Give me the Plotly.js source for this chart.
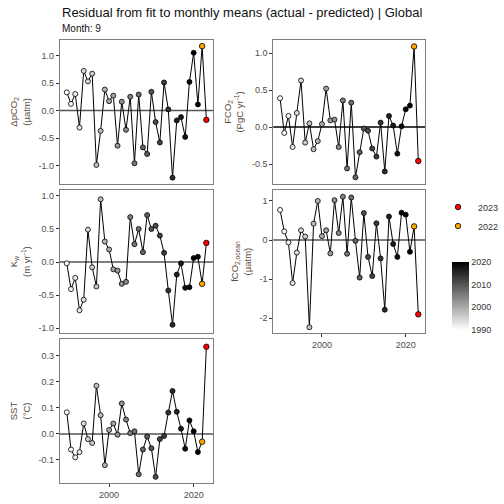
<!DOCTYPE html>
<html>
<head>
<meta charset="utf-8">
<script src="https://cdn.plot.ly/plotly-3.0.1.min.js"></script>
<style>body{margin:0}#plot{width:504px;height:504px}</style>
</head>
<body>
<div id="plot"></div>
<script>
const years = [];
for (let y = 1990; y <= 2023; y++) years.push(y);

const dpco2 = [0.33, 0.12, 0.30, -0.31, 0.72, 0.53, 0.67, -0.99, -0.37, 0.38, 0.17, 0.27, -0.64, 0.16, -0.35, 0.25, -0.96, 0.29, -0.67, -0.79, 0.34, -0.21, -0.58, 0.51, 0.02, -1.22, -0.18, -0.12, -0.48, 0.52, 1.05, 0.11, 1.17, -0.17];
const fco2flux = [0.39, -0.08, 0.15, -0.27, 0.19, 0.63, -0.21, 0.05, -0.30, -0.19, 0.04, 0.52, 0.09, 0.10, -0.27, 0.36, -0.56, 0.33, -0.68, -0.34, -0.02, -0.05, -0.29, -0.40, 0.06, -0.60, 0.15, 0.02, -0.36, 0.01, 0.24, 0.29, 1.09, -0.46];
const kw = [-0.02, -0.41, -0.24, -0.73, -0.57, 0.49, -0.08, -0.37, 0.95, 0.31, 0.19, -0.11, -0.13, -0.33, -0.30, 0.68, 0.27, 0.50, 0.15, 0.71, 0.50, 0.55, 0.40, 0.14, -0.43, -0.95, -0.19, -0.02, -0.39, -0.38, 0.06, 0.08, -0.33, 0.29];
const fco2ocean = [0.77, 0.22, -0.06, -1.10, -0.32, 0.25, 0.09, -2.23, 0.42, 1.00, 0.10, 0.25, -0.34, 1.02, 0.18, 1.11, -0.35, 1.09, -0.02, -0.96, 0.69, -0.43, -0.92, 0.43, -0.47, -1.78, 0.60, -0.10, -0.43, 0.70, 0.65, -0.30, 0.35, -1.90];
const sst = [0.083, -0.06, -0.09, -0.07, 0.04, -0.02, -0.035, 0.185, 0.072, -0.12, 0.015, 0.04, -0.003, 0.117, 0.055, 0.003, 0.01, -0.155, -0.06, -0.01, -0.055, -0.165, -0.02, -0.008, 0.082, 0.165, 0.085, 0.02, -0.057, 0.052, 0.01, -0.07, -0.03, 0.335];

const panels = [
    { y: dpco2, title: 'ΔpCO<sub>2</sub><br>(µatm)', x: [0.121, 0.431], d: [0.635, 0.921], r: [-1.335, 1.285], tv: [-1, -0.5, 0, 0.5, 1], tt: ['-1.0', '-0.5', '0.0', '0.5', '1.0'], xt: false },
    { y: fco2flux, title: 'FCO<sub>2</sub><br>(PgC yr<sup>-1</sup>)', x: [0.552, 0.859], d: [0.635, 0.921], r: [-0.77, 1.18], tv: [-0.5, 0, 0.5, 1], tt: ['-0.5', '0.0', '0.5', '1.0'], xt: false },
    { y: kw, title: 'K<sub>w</sub><br>(m yr<sup>-1</sup>)', x: [0.121, 0.431], d: [0.339, 0.623], r: [-1.076, 1.09], tv: [-1, -0.5, 0, 0.5, 1], tt: ['-1.0', '-0.5', '0.0', '0.5', '1.0'], xt: false },
    { y: fco2ocean, title: 'fCO<sub>2,ocean</sub><br>(µatm)', x: [0.552, 0.859], d: [0.339, 0.623], r: [-2.38, 1.28], tv: [-2, -1, 0, 1], tt: ['-2', '-1', '0', '1'], xt: true },
    { y: sst, title: 'SST<br>(°C)', x: [0.121, 0.431], d: [0.042, 0.327], r: [-0.188, 0.364], tv: [-0.1, 0, 0.1, 0.2, 0.3], tt: ['-0.1', '0.0', '0.1', '0.2', '0.3'], xt: true },
];

const grey = [[0, '#ffffff'], [1, '#000000']];
const data = [];
const layout = {
    width: 504, height: 504,
    margin: { t: 0, l: 0, r: 0, b: 0 },
    paper_bgcolor: 'white', plot_bgcolor: 'white',
    font: { family: 'Liberation Sans, Arial, sans-serif', size: 9, color: '#4d4d4d' },
    legend: { x: 0.885, y: 0.618, xanchor: 'left', yanchor: 'top', font: { size: 9, color: '#333' }, itemwidth: 12, tracegroupgap: 0 },
    shapes: [],
    annotations: [
        { text: 'Residual from fit to monthly means (actual - predicted) | Global', xref: 'paper', yref: 'paper', x: 0.121, y: 1 - 12 / 504, xanchor: 'left', yanchor: 'middle', showarrow: false, font: { size: 13, color: '#111' } },
        { text: 'Month: 9', xref: 'paper', yref: 'paper', x: 0.121, y: 1 - 28 / 504, xanchor: 'left', yanchor: 'middle', showarrow: false, font: { size: 10, color: '#111' } },
    ],
};

panels.forEach((p, i) => {
    const n = i + 1;
    const xa = 'x' + n, ya = 'y' + n;
    const main = years.slice(0, 32), mainY = p.y.slice(0, 32);
    data.push({
        x: years, y: p.y, xaxis: xa, yaxis: ya, mode: 'lines',
        line: { color: '#000', width: 1 }, showlegend: false, hoverinfo: 'skip',
    });
    data.push({
        x: main, y: mainY, xaxis: xa, yaxis: ya, mode: 'markers', showlegend: false,
        marker: { size: 5, color: main, cmin: 1990, cmax: 2020, colorscale: grey, line: { color: '#000', width: 0.8 },
            showscale: i === 0,
            colorbar: { x: 0.893, xanchor: 'left', y: 1 - 252 / 504, yanchor: 'top', len: 88 / 504, lenmode: 'fraction', thickness: 17,
                outlinewidth: 0, tickvals: [1990, 2000, 2010, 2020], ticks: '', tickfont: { size: 9, color: '#333' } } },
    });
    data.push({
        x: [2023], y: [p.y[33]], xaxis: xa, yaxis: ya, mode: 'markers', name: '2023', showlegend: i === 0, legendrank: 1,
        marker: { size: 5.5, color: '#ff0000', line: { color: '#000', width: 0.8 } },
    });
    data.push({
        x: [2022], y: [p.y[32]], xaxis: xa, yaxis: ya, mode: 'markers', name: '2022', showlegend: i === 0, legendrank: 2,
        marker: { size: 5.5, color: '#ffa500', line: { color: '#000', width: 0.8 } },
    });
    layout['xaxis' + n] = {
        domain: p.x, anchor: ya, range: [1988.37, 2024.65], showgrid: false, zeroline: false,
        showline: true, mirror: true, linecolor: '#7f7f7f', linewidth: 1,
        tickvals: [2000, 2020], ticks: p.xt ? 'outside' : '', ticklen: 3, tickcolor: '#333',
        showticklabels: p.xt, tickfont: { size: 9, color: '#4d4d4d' },
    };
    layout['yaxis' + n] = {
        domain: p.d, anchor: xa, range: p.r, showgrid: false, zeroline: false,
        showline: true, mirror: true, linecolor: '#7f7f7f', linewidth: 1,
        tickvals: p.tv, ticktext: p.tt, ticks: 'outside', ticklen: 3, tickcolor: '#333',
        tickfont: { size: 9, color: '#4d4d4d' },
        title: { text: p.title, font: { size: 9.5, color: '#5c4e3c' }, standoff: 6 },
    };
    layout.shapes.push({
        type: 'line', xref: xa + ' domain', yref: ya, x0: 0, x1: 1, y0: 0, y1: 0,
        line: { color: i === 1 ? '#000' : '#555', width: 1.5 }, layer: 'below',
    });
});

Plotly.newPlot('plot', data, layout, { staticPlot: true });
</script>
</body>
</html>
